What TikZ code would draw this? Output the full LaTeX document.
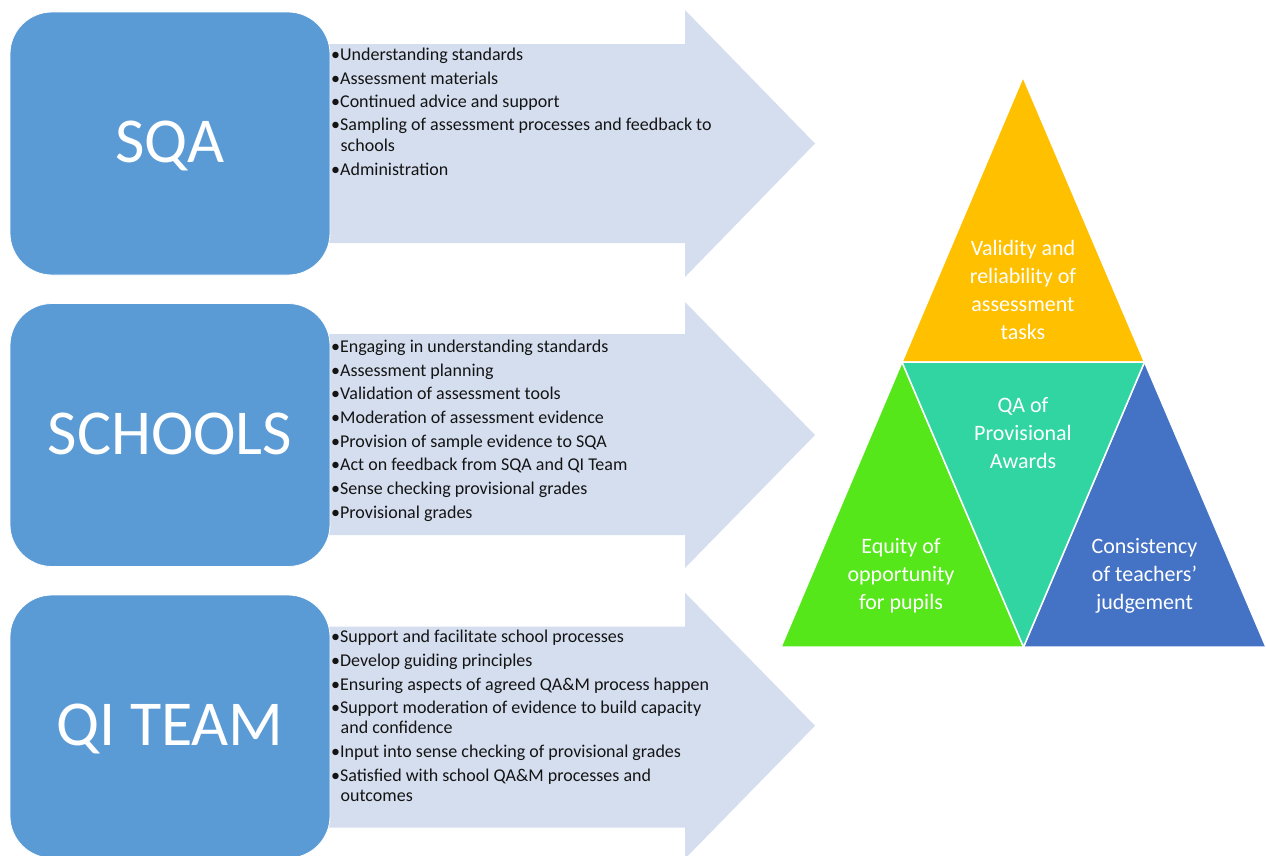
\documentclass[tikz,border=0pt]{standalone}
\usepackage{fontspec}
\setmainfont{Carlito}
\definecolor{boxblue}{HTML}{5B9BD5}
\definecolor{arrowfill}{HTML}{D5DEEF}
\definecolor{trigold}{HTML}{FFC000}
\definecolor{triteal}{HTML}{31D5A2}
\definecolor{trigreen}{HTML}{56E71A}
\definecolor{triblue}{HTML}{4472C4}
\definecolor{bodytext}{HTML}{141414}
\tikzset{
  bigbox/.style={draw=white, line width=0.8pt, fill=boxblue, rounded corners=42pt,
    minimum width=320pt, minimum height=263pt, inner sep=0pt,
    text=white, font=\fontsize{64}{70}\selectfont, text height=38pt, text depth=0pt},
  arrowshape/.style={fill=arrowfill},
  bullettext/.style={anchor=base west, inner sep=0pt, text=bodytext, font=\fontsize{18}{20}\selectfont},
  tripiece/.style={draw=white, line width=1.5pt, line join=miter},
  tritext/.style={align=center, text=white, inner sep=0pt, font=\fontsize{22}{28}\selectfont}
}
\begin{document}
\begin{tikzpicture}[x=1pt,y=-1pt]
\useasboundingbox (0,0) rectangle (1266,855);
\clip (0,0) rectangle (1266,855);
% arrows
\fill[arrowshape] (322,44) -- (685,44) -- (685,10) -- (815,143.5) -- (685,277) -- (685,243) -- (322,243) -- cycle;
\fill[arrowshape] (322,334) -- (685,334) -- (685,302) -- (815,435) -- (685,568) -- (685,535) -- (322,535) -- cycle;
\fill[arrowshape] (322,626.5) -- (685,626.5) -- (685,592.7) -- (815,725.7) -- (685,858.7) -- (685,827.5) -- (322,827.5) -- cycle;
% boxes
\node[bigbox] (sqa) at (170,143.5) {SQA};
\node[bigbox] (schools) at (170,435) {SCHOOLS};
\node[bigbox] (qi) at (170,726.5) {QI TEAM};
% bullet lists
\foreach \xx/\yy/\tx [count=\i] in {
  331/60/{•Understanding standards},
  331/84/{•Assessment materials},
  331/107.5/{•Continued advice and support},
  331/130.5/{•Sampling of assessment processes and feedback to},
  340.5/151/{schools},
  331/175/{•Administration}}
  \node[bullettext] (sqaitem\i) at (\xx,\yy) {\tx};
\foreach \xx/\yy/\tx [count=\i] in {
  331/352/{•Engaging in understanding standards},
  331/376/{•Assessment planning},
  331/399.5/{•Validation of assessment tools},
  331/423/{•Moderation of assessment evidence},
  331/447/{•Provision of sample evidence to SQA},
  331/470.5/{•Act on feedback from SQA and QI Team},
  331/494/{•Sense checking provisional grades},
  331/518/{•Provisional grades}}
  \node[bullettext] (schitem\i) at (\xx,\yy) {\tx};
\foreach \xx/\yy/\tx [count=\i] in {
  331/642.5/{•Support and facilitate school processes},
  331/666/{•Develop guiding principles},
  331/690/{•Ensuring aspects of agreed QA\&M process happen},
  331/713.5/{•Support moderation of evidence to build capacity},
  340.5/733.5/{and confidence},
  331/757.5/{•Input into sense checking of provisional grades},
  331/781/{•Satisfied with school QA\&M processes and},
  340.5/801.5/{outcomes}}
  \node[bullettext] (qiitem\i) at (\xx,\yy) {\tx};
% triangle
\coordinate (apex) at (1023,77);
\coordinate (bl) at (781,647);
\coordinate (br) at (1266,647);
\coordinate (ml) at (902,362);
\coordinate (mr) at (1144.5,362);
\coordinate (bm) at (1023.5,647);
\filldraw[tripiece, fill=trigold] (apex) -- (mr) -- (ml) -- cycle;
\filldraw[tripiece, fill=trigreen] (ml) -- (bm) -- (bl) -- cycle;
\filldraw[tripiece, fill=triblue] (mr) -- (br) -- (bm) -- cycle;
\filldraw[tripiece, fill=triteal] (ml) -- (mr) -- (bm) -- cycle;
\node[tritext] (validity) at (1023,290) {Validity and\\reliability of\\assessment\\tasks};
\node[tritext] (qa) at (1023,433) {QA of\\Provisional\\Awards};
\node[tritext] (equity) at (901,576) {Equity of\\opportunity\\for pupils};
\node[tritext] (consistency) at (1144.5,576) {Consistency\\of teachers’\\judgement};
\end{tikzpicture}
\end{document}
